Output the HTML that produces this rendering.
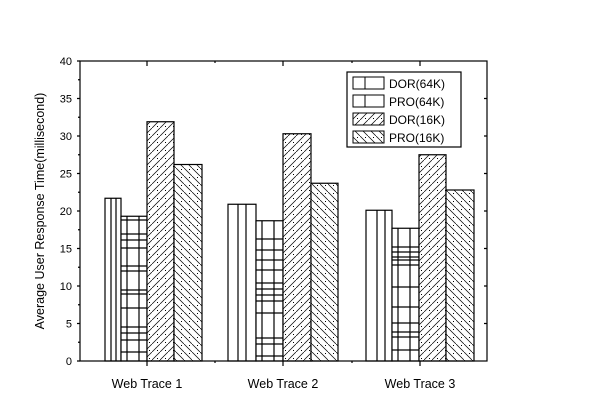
<!DOCTYPE html>
<html><head><style>
html,body{margin:0;padding:0;background:#fff;width:600px;height:420px;overflow:hidden;}
svg{display:block;font-family:"Liberation Sans",sans-serif;}
</style></head><body>
<svg width="600" height="420" viewBox="0 0 600 420" xmlns="http://www.w3.org/2000/svg">
<defs>
<pattern id="dd" patternUnits="userSpaceOnUse" width="8" height="8">
<rect width="8" height="8" fill="#fff"/>
<line x1="-1" y1="9" x2="9" y2="-1" stroke="#000" stroke-width="0.7"/>
<rect x="5" y="6" width="1" height="1" fill="#000"/>
</pattern>
<pattern id="bd" patternUnits="userSpaceOnUse" width="8" height="8">
<rect width="8" height="8" fill="#fff"/>
<line x1="-1" y1="-1" x2="9" y2="9" stroke="#000" stroke-width="0.7"/>
<rect x="5" y="1" width="1" height="1" fill="#000"/>
</pattern>
</defs>
<rect width="600" height="420" fill="#fff"/>
<g stroke="#000" stroke-width="1.2">
<!-- group 1 -->
<rect x="105" y="198.25" width="16" height="162.75" fill="#fff"/>
<line x1="111" y1="198" x2="111" y2="361"/><line x1="116" y1="198" x2="116" y2="361"/>
<rect x="121" y="216.25" width="26" height="144.75" fill="#fff"/>
<line x1="127" y1="216" x2="127" y2="361"/><line x1="139" y1="216" x2="139" y2="361"/>
<path d="M121 220H147M121 234H147M121 240H147M121 248H147M121 266H147M121 271H147M121 290H147M121 294H147M121 308H147M121 327H147M121 333H147M121 340H147M121 352H147"/>
<rect x="147" y="121.75" width="27" height="239.25" fill="url(#dd)"/>
<rect x="174" y="164.5" width="28" height="196.5" fill="url(#bd)"/>
<!-- group 2 -->
<rect x="228" y="204.25" width="28" height="156.75" fill="#fff"/>
<line x1="238" y1="204" x2="238" y2="361"/><line x1="246" y1="204" x2="246" y2="361"/>
<rect x="256" y="220.75" width="27" height="140.25" fill="#fff"/>
<line x1="262" y1="221" x2="262" y2="361"/><line x1="274" y1="221" x2="274" y2="361"/>
<path d="M256 239H283M256 250H283M256 260H283M256 270H283M256 283H283M256 289H283M256 295H283M256 301H283M256 313H283M256 338H283M256 344H283M256 356H283"/>
<rect x="283" y="133.75" width="28" height="227.25" fill="url(#dd)"/>
<rect x="311" y="183.25" width="27" height="177.75" fill="url(#bd)"/>
<!-- group 3 -->
<rect x="366" y="210.25" width="26" height="150.75" fill="#fff"/>
<line x1="377" y1="210" x2="377" y2="361"/><line x1="385" y1="210" x2="385" y2="361"/>
<rect x="392" y="228.25" width="27" height="132.75" fill="#fff"/>
<line x1="398" y1="228" x2="398" y2="361"/><line x1="410" y1="228" x2="410" y2="361"/>
<path d="M392 247H419M392 252H419M392 257H419M392 260H419M392 265H419M392 287H419M392 307H419M392 323H419M392 332H419M392 337H419M392 350H419"/>
<rect x="419" y="154.75" width="27" height="206.25" fill="url(#dd)"/>
<rect x="446" y="190" width="28" height="171" fill="url(#bd)"/>
</g>
<!-- frame -->
<rect x="80" y="61" width="407" height="300" fill="none" stroke="#000" stroke-width="1.2"/>
<g stroke="#000" stroke-width="1.2">
<path d="M77 61H80M77 98.5H80M77 136H80M77 173.5H80M77 211H80M77 248.5H80M77 286H80M77 323.5H80M77 361H80"/>
<path d="M78 79.75H80M78 117.25H80M78 154.75H80M78 192.25H80M78 229.75H80M78 267.25H80M78 304.75H80M78 342.25H80"/>
<path d="M484 98.5H487M484 136H487M484 173.5H487M484 211H487M484 248.5H487M484 286H487M484 323.5H487"/>
<path d="M147 361V366M283 361V366M420 361V366M215 361V363M352 361V363"/>
<path d="M147 61V66M283 61V66M420 61V66M215 61V63M352 61V63"/>
</g>
<g font-size="11" text-anchor="end" fill="#000">
<text x="72" y="65">40</text><text x="72" y="102.5">35</text><text x="72" y="140">30</text>
<text x="72" y="177.5">25</text><text x="72" y="215">20</text><text x="72" y="252.5">15</text>
<text x="72" y="290">10</text><text x="72" y="327.5">5</text><text x="72" y="365">0</text>
</g>
<g font-size="12.5" text-anchor="middle">
<text x="147" y="388">Web Trace 1</text><text x="283" y="388">Web Trace 2</text><text x="420" y="388">Web Trace 3</text>
</g>
<text transform="translate(44,211) rotate(-90)" font-size="12.5" text-anchor="middle">Average User Response Time(millisecond)</text>
<!-- legend -->
<rect x="347" y="72" width="114" height="75" fill="#fff" stroke="#000" stroke-width="1.2"/>
<g stroke="#000" stroke-width="1">
<rect x="353" y="77" width="31" height="12" fill="#fff"/><line x1="365" y1="77" x2="365" y2="89"/>
<rect x="353" y="95" width="31" height="12" fill="#fff"/><line x1="365" y1="95" x2="365" y2="107"/>
<rect x="353" y="113" width="31" height="12" fill="url(#dd)"/>
<rect x="353" y="131" width="31" height="12" fill="url(#bd)"/>
</g>
<g font-size="12">
<text x="389" y="88">DOR(64K)</text><text x="389" y="106">PRO(64K)</text>
<text x="389" y="124">DOR(16K)</text><text x="389" y="142">PRO(16K)</text>
</g>
</svg>
</body></html>
